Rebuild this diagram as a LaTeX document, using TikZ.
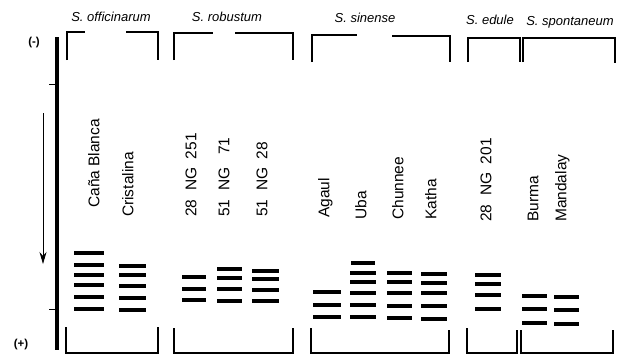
\documentclass[tikz,border=0pt]{standalone}
\usepackage{fontspec}
\setmainfont{Liberation Sans}
\usetikzlibrary{arrows.meta}
\tikzset{
  band/.style={line width=4.6pt},
  brk/.style={line width=1.1pt},
  lane/.style={rotate=90,anchor=west,inner sep=0pt,text height=11.5pt,text depth=3pt,font=\fontsize{15.5}{16}\selectfont},
  species/.style={inner sep=0pt,font=\fontsize{13}{14}\selectfont\itshape},
  sign/.style={inner sep=0pt,font=\fontsize{11.5}{12}\selectfont\bfseries}
}
\newcommand\bandlane[3]{\foreach \yy in {#3} {\draw[band] (#1,\yy) -- (#2,\yy);}}
\begin{document}
\begin{tikzpicture}[x=1pt,y=-1pt]
\useasboundingbox (0,0) rectangle (623,354);
% axis
\draw[line width=4.5pt] (57,37) -- (57,350);
\draw[line width=1pt] (49,84) -- (57,84);
\draw[line width=1pt] (49,309) -- (57,309);
\coordinate (arrS) at (43,113);
\coordinate (arrE) at (43,264);
\draw[line width=0.8pt,-{Stealth[length=12pt,width=7pt]}] (arrS) -- (arrE);
\node[sign] (minus) at (34,43) {(-)};
\node[sign] (plus) at (21,345) {(+)};
% species labels
\node[species] (off) at (111,17) {S. officinarum};
\node[species] (rob) at (227,17) {S. robustum};
\node[species] (sin) at (365,18) {S. sinense};
\node[species] (edu) at (490,20) {S. edule};
\node[species] (spo) at (570,22) {S. spontaneum};
% top brackets
\draw[brk] (67,60) |- (85,32);
\draw[brk] (126,32) -| (158,60);
\draw[brk] (174,60) |- (213,33);
\draw[brk] (235,33) -| (293,60);
\draw[brk] (312,62) |- (357,35);
\draw[brk] (392,36) -| (450,62);
\draw[brk] (468,62) |- (520,38) -- (520,62);
\draw[brk] (523,62) |- (615,38) -- (615,63);
% bottom brackets
\draw[brk] (66,327) |- (158,353) -- (158,327);
\draw[brk] (174,328) |- (293,353) -- (293,328);
\draw[brk] (311,328) |- (449,353) -- (449,330);
\draw[brk] (467,328) |- (517,353) -- (517,330);
\draw[brk] (521,330) |- (613,353) -- (613,330);
% lane labels
\node[lane] (l1) at (95,208) {Caña Blanca};
\node[lane] (l2) at (129,217) {Cristalina};
\node[lane] (l3) at (192,217) {28\ \ NG\ \ 251};
\node[lane] (l4) at (225,217) {51\ \ NG\ \ \ 71};
\node[lane] (l5) at (263,217) {51\ \ NG\ \ 28};
\node[lane] (l6) at (325,218) {Agaul};
\node[lane] (l7) at (362,220) {Uba};
\node[lane] (l8) at (399,220) {Chunnee};
\node[lane] (l9) at (432,220) {Katha};
\node[lane] (l10) at (487,222) {28\ \ NG\ \ 201};
\node[lane] (l11) at (534,222) {Burma};
\node[lane] (l12) at (562,222) {Mandalay};
% bands
\bandlane{74}{104}{253,265,275,285,297,309}
\bandlane{119}{146}{266,275,286,298,310}
\bandlane{182}{206}{277,289,300}
\bandlane{217}{242}{269,278,289,301}
\bandlane{252}{279}{271,279,290,301}
\bandlane{313}{341}{292,305,317}
\draw[line width=3.8pt] (351,263) -- (375,263);
\bandlane{350}{376}{273,282,293,305,317}
\bandlane{387}{412}{273,282,293,306,318}
\bandlane{421}{447}{274,283,293,306,319}
\bandlane{475}{501}{275,284,295,309}
\bandlane{522}{547}{296,309,323}
\bandlane{554}{579}{297,310,324}
\end{tikzpicture}
\end{document}
